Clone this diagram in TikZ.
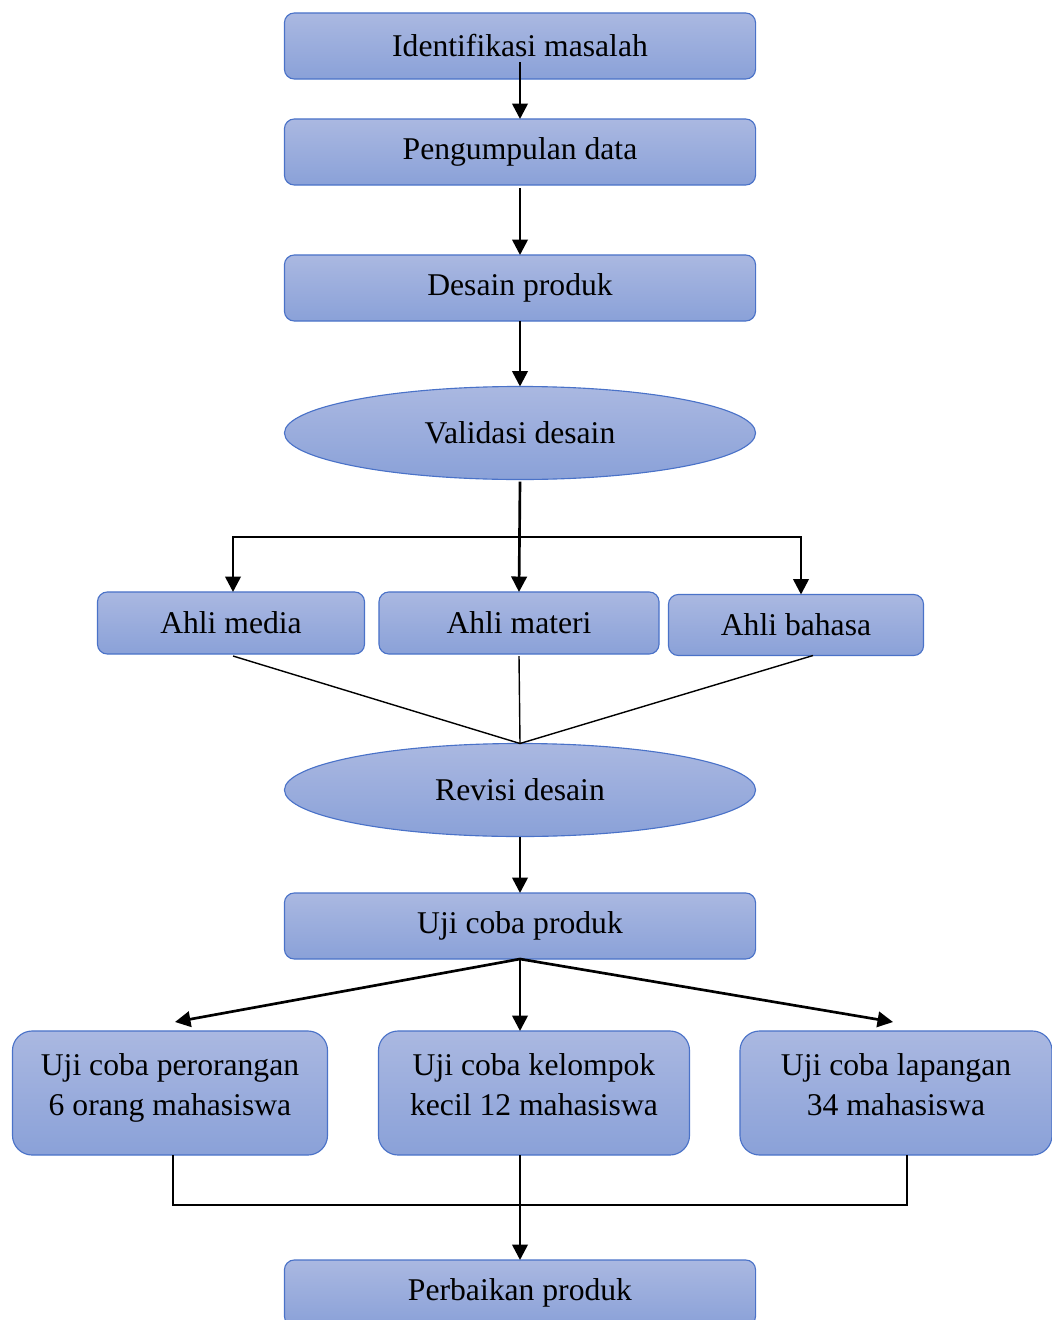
\documentclass[tikz,border=0pt]{standalone}
\usepackage{fontspec}
\setmainfont{Liberation Serif}
\usetikzlibrary{arrows.meta,shapes.geometric}
\definecolor{edge}{HTML}{4A72C8}
\definecolor{shadetop}{HTML}{AAB8E1}
\definecolor{shadebot}{HTML}{8AA1D8}

\begin{document}
\begin{tikzpicture}[x=0.025cm,y=-0.025cm,>={Triangle[length=11pt,width=11pt]},
  every node/.style={font=\fontsize{22.5}{28.5}\selectfont,outer sep=0pt},
  box/.style={draw=edge,thick,top color=shadetop,bottom color=shadebot,
    rounded corners=7pt,minimum width=11.775cm,minimum height=1.65cm},
  oval/.style={ellipse,draw=edge,thick,top color=shadetop,bottom color=shadebot,
    minimum width=11.775cm,minimum height=2.325cm},
  expert/.style={box,minimum height=1.55cm},
  trial/.style={box,rounded corners=14pt,minimum height=3.1cm,align=center},
  arr/.style={->,line width=1.9pt},
  link/.style={line width=1pt}]
  \useasboundingbox (0,0) rectangle (1051,1320);

  \node[box] (ident) at (520,46) {Identifikasi masalah};
  \node[box] (peng) at (520,152) {Pengumpulan data};
  \node[box] (desain) at (520,288) {Desain produk};
  \node[oval] (valid) at (520,433) {Validasi desain};

  \node[expert,minimum width=6.675cm] (media) at (231,623) {Ahli media};
  \node[expert,minimum width=7cm] (materi) at (519,623) {Ahli materi};
  \node[expert,minimum width=6.375cm,minimum height=1.525cm] (bahasa) at (796,625) {Ahli bahasa};

  \node[oval] (revisi) at (520,790) {Revisi desain};
  \node[box] (uji) at (520,926) {Uji coba produk};

  \node[trial,minimum width=7.875cm] (pero) at (170,1093)
    {Uji coba perorangan\\6 orang mahasiswa\\[-16pt]};
  \node[trial,minimum width=7.775cm] (kel) at (534,1093)
    {Uji coba kelompok\\kecil 12 mahasiswa\\[-16pt]};
  \node[trial,minimum width=7.8cm] (lap) at (896,1093)
    {Uji coba lapangan\\34 mahasiswa\\[-16pt]};

  \node[box] (perb) at (520,1293) {Perbaikan produk};

  % alur utama
  \draw[arr] ([yshift=0.425cm]ident.south) -- (peng.north);
  \draw[arr] ([yshift=-0.075cm]peng.south) -- (desain.north);
  \draw[arr] (desain.south) -- (valid.north);

  % validasi ke para ahli
  \coordinate (split) at (520,537);
  \draw[arr] ([yshift=-0.05cm]valid.south) -- (materi.north);
  \draw[arr] (split) -| ([xshift=0.05cm]media.north);
  \draw[arr] (split) -| ([xshift=0.125cm]bahasa.north);

  \draw[link] ([xshift=0.05cm,yshift=-0.05cm]media.south) -- (revisi.north);
  \draw[link] ([yshift=-0.05cm]materi.south) -- (revisi.north);
  \draw[link] ([xshift=0.425cm]bahasa.south) -- (revisi.north);

  \draw[arr] (revisi.south) -- (uji.north);

  % uji coba
  \draw[arr] (uji.south) -- ([shift={(0.125cm,0.225cm)}]pero.north);
  \draw[arr] (uji.south) -- (uji.south |- kel.north);
  \draw[arr] (uji.south) -- ([shift={(-0.075cm,0.225cm)}]lap.north);

  \coordinate (join) at (520,1205);
  \draw[link,line width=1.3pt] ([xshift=0.075cm]pero.south) |- (join)
    -| ([xshift=0.275cm]lap.south);
  \draw[arr] (perb.north |- kel.south) -- (perb.north);
\end{tikzpicture}
\end{document}
